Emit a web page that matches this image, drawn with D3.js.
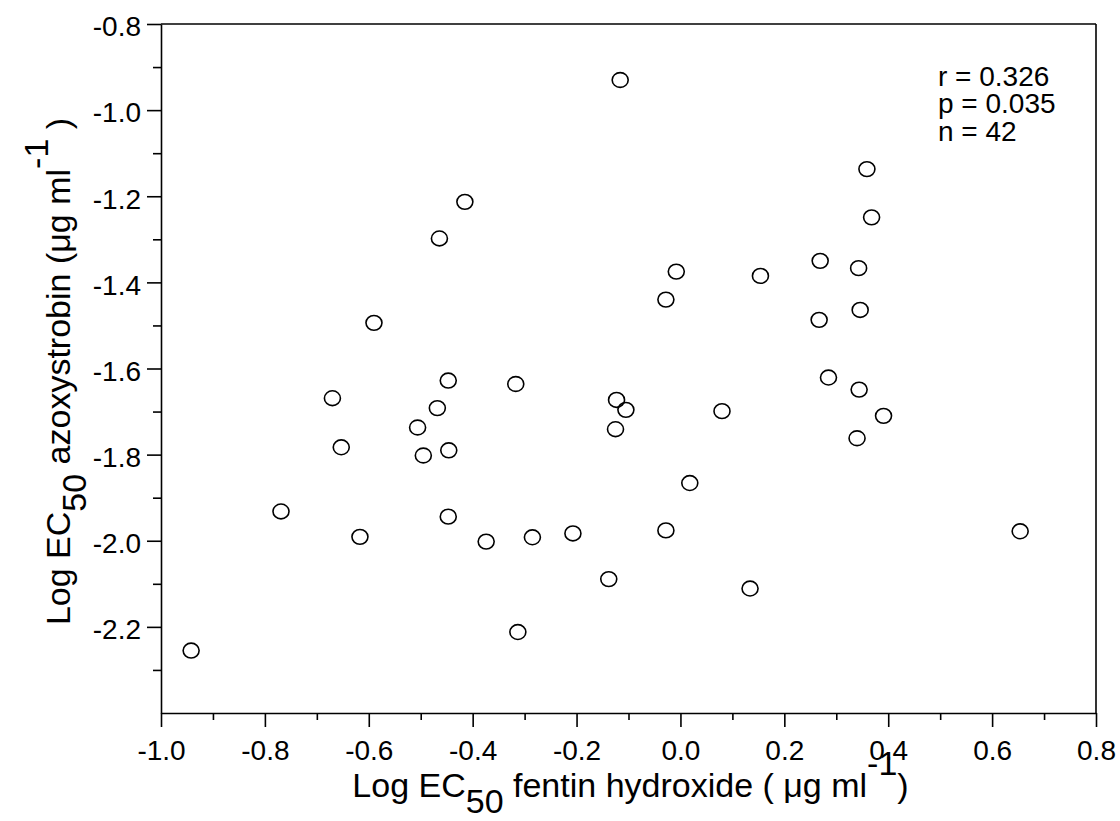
<!DOCTYPE html>
<html>
<head>
<meta charset="utf-8">
<script src="https://cdn.jsdelivr.net/npm/d3@7"></script>
<style>
  html, body { margin: 0; padding: 0; background: #fff; }
  svg { display: block; }
  text { font-family: "Liberation Sans", Arial, sans-serif; fill: #000; }
</style>
</head>
<body>
<script>
// Log EC50 fentin hydroxide (x) and Log EC50 azoxystrobin (y) for each isolate
const fentinHydroxide = [
  -0.415, -0.464, -0.590, -0.116, -0.008, 0.154, -0.028, 0.359, 0.368, 0.269,
  0.343, 0.346, 0.267, -0.447, -0.670, -0.468, -0.506, -0.653, -0.495, -0.446,
  -0.769, -0.447, -0.617, -0.374, -0.942, -0.317, -0.123, -0.105, 0.080, -0.125,
  0.018, -0.285, -0.207, -0.028, -0.138, 0.134, -0.313, 0.285, 0.344, 0.391,
  0.340, 0.654
];
const azoxystrobin = [
  -1.213, -1.298, -1.494, -0.930, -1.375, -1.385, -1.440, -1.137, -1.249, -1.350,
  -1.367, -1.464, -1.487, -1.628, -1.669, -1.692, -1.737, -1.783, -1.802, -1.790,
  -1.932, -1.944, -1.991, -2.002, -2.255, -1.636, -1.673, -1.696, -1.699, -1.741,
  -1.866, -1.992, -1.983, -1.976, -2.089, -2.111, -2.212, -1.621, -1.649, -1.710,
  -1.762, -1.978
];
const xTicks = [-1.0, -0.8, -0.6, -0.4, -0.2, 0.0, 0.2, 0.4, 0.6, 0.8];
const xMinorTicks = [-0.9, -0.7, -0.5, -0.3, -0.1, 0.1, 0.3, 0.5, 0.7];
const yTicks = [-0.8, -1.0, -1.2, -1.4, -1.6, -1.8, -2.0, -2.2];
const yMinorTicks = [-0.9, -1.1, -1.3, -1.5, -1.7, -1.9, -2.1, -2.3];
const statsLines = ["r = 0.326", "p = 0.035", "n = 42"];

(function () {
const W = 1120, H = 821;
const mLeft = 161, mRight = 1096, mTop = 24, mBottom = 713;

const svg = d3.select("body").append("svg").attr("width", W).attr("height", H);

const x = d3.scaleLinear().domain([-1.0, 0.8]).range([mLeft, mRight]);
const y = d3.scaleLinear().domain([-2.4, -0.8]).range([mBottom, mTop]);

const fmt = d => (Math.abs(d) < 1e-9 ? 0 : d).toFixed(1);
const tickFont = 28;

// frame (top and right)
svg.append("line").attr("x1", mLeft).attr("x2", mRight).attr("y1", mTop).attr("y2", mTop)
  .attr("stroke", "#000").attr("stroke-width", 1.6);
svg.append("line").attr("x1", mRight).attr("x2", mRight).attr("y1", mTop).attr("y2", mBottom)
  .attr("stroke", "#000").attr("stroke-width", 1.6);

// x axis
const gx = svg.append("g").attr("transform", `translate(0,${mBottom})`)
  .call(d3.axisBottom(x).tickValues(xTicks).tickFormat(fmt).tickSizeInner(14).tickSizeOuter(0).tickPadding(12));
const gxm = svg.append("g").attr("transform", `translate(0,${mBottom})`)
  .call(d3.axisBottom(x).tickValues(xMinorTicks).tickFormat("").tickSizeInner(7).tickSizeOuter(0));
gxm.select(".domain").remove();

// y axis
const gy = svg.append("g").attr("transform", `translate(${mLeft},0)`)
  .call(d3.axisLeft(y).tickValues(yTicks).tickFormat(fmt).tickSizeInner(14).tickSizeOuter(0).tickPadding(6));
const gym = svg.append("g").attr("transform", `translate(${mLeft},0)`)
  .call(d3.axisLeft(y).tickValues(yMinorTicks).tickFormat("").tickSizeInner(8).tickSizeOuter(0));
gym.select(".domain").remove();

[gx, gxm, gy, gym].forEach(g => {
  g.selectAll(".domain").attr("stroke", "#000").attr("stroke-width", 1.6);
  g.selectAll(".tick line").attr("stroke", "#000").attr("stroke-width", 1.6);
  g.selectAll(".tick text")
    .style("font-family", '"Liberation Sans", Arial, sans-serif')
    .style("font-size", tickFont + "px").attr("fill", "#000");
});
gx.selectAll(".tick text").attr("dy", "0.75em");
gy.selectAll(".tick text").attr("dy", "0.42em");

// points
svg.append("g").selectAll("ellipse")
  .data(fentinHydroxide.map((v, i) => [v, azoxystrobin[i]]))
  .join("ellipse")
  .attr("cx", d => x(d[0]))
  .attr("cy", d => y(d[1]))
  .attr("rx", 8)
  .attr("ry", 7.4)
  .attr("fill", "none")
  .attr("stroke", "#000")
  .attr("stroke-width", 1.6);

// stats annotation
svg.append("g").selectAll("text").data(statsLines).join("text")
  .attr("x", 938).attr("y", (d, i) => 86 + i * 27.3)
  .style("font-size", "28px")
  .text(d => d);

// x title
const titleSize = 34;
const sub = 16, sup = 22;
const xt = svg.append("text")
  .attr("x", (mLeft + mRight) / 2 + 2).attr("y", 797)
  .attr("text-anchor", "middle")
  .style("font-size", titleSize + "px");
xt.append("tspan").text("Log EC");
xt.append("tspan").attr("dy", sub).text("50");
xt.append("tspan").attr("dy", -sub).text(" fentin hydroxide ( \u03BCg ml");
xt.append("tspan").attr("dy", -sup).text("-1");
xt.append("tspan").attr("dy", sup).text(")");

// y title
const yt = svg.append("text")
  .attr("transform", `translate(70,${(mTop + mBottom) / 2 + 3}) rotate(-90)`)
  .attr("text-anchor", "middle")
  .style("font-size", titleSize + "px");
yt.append("tspan").text("Log EC");
yt.append("tspan").attr("dy", sub).text("50");
yt.append("tspan").attr("dy", -sub).text(" azoxystrobin (\u03BCg ml");
yt.append("tspan").attr("dy", -sup).text("-1");
yt.append("tspan").attr("dy", sup).text(" )");
})();
</script>
</body>
</html>
